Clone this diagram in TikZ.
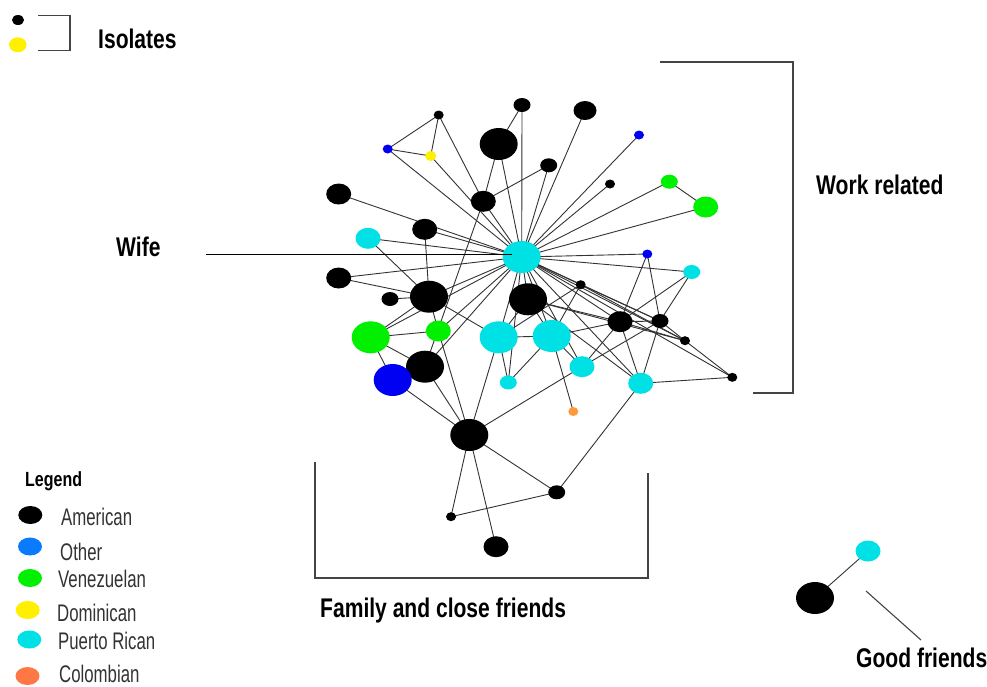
\documentclass[tikz,border=0pt]{standalone}
\usepackage{fontspec}
\setmainfont{Liberation Sans}
\newfontfamily\headfont[FakeStretch=0.78]{Liberation Sans}
\newfontfamily\itemfont[FakeStretch=0.70]{Liberation Sans}
\usetikzlibrary{shapes.geometric}
\pgfdeclarelayer{paper}
\pgfdeclarelayer{edges}
\pgfsetlayers{paper,edges,main}

\definecolor{amer}{HTML}{000000}
\definecolor{othr}{HTML}{0000F2}
\definecolor{othrkey}{HTML}{0A7BFF}
\definecolor{vene}{HTML}{00F000}
\definecolor{domi}{HTML}{FFF000}
\definecolor{puer}{HTML}{00E1E6}
\definecolor{colo}{HTML}{FF9A3C}
\definecolor{colokey}{HTML}{FF7744}
\definecolor{tieclr}{HTML}{333333}
\definecolor{brkclr}{HTML}{444444}

\tikzset{
  actor/.style={ellipse, inner sep=0pt, draw=none},
  big/.style={actor, minimum width=38pt, minimum height=32pt},
  med/.style={actor, minimum width=25pt, minimum height=21pt},
  sml/.style={actor, minimum width=17pt, minimum height=14pt},
  tiny/.style={actor, minimum width=10pt, minimum height=9pt},
  keydot/.style={actor, minimum width=24pt, minimum height=18pt},
  tie/.style={draw=tieclr, line width=0.9pt},
  brk/.style={draw=brkclr, line width=1.1pt},
  head/.style={anchor=base west, inner sep=0pt, text=black,
    font=\headfont\bfseries\fontsize{27}{27}\selectfont},
  keytext/.style={anchor=base west, inner sep=0pt, text=black!80,
    font=\itemfont\fontsize{24}{24}\selectfont},
}

\begin{document}
\begin{tikzpicture}[x=1pt, y=-1pt]
\begin{pgfonlayer}{paper}
\fill[white] (0,0) rectangle (987,686);
\end{pgfonlayer}
\useasboundingbox (0,0) rectangle (987,686);

% ---- actors of the personal network ----
\node[big, fill=puer] (e)   at (521.7,257) {};
\node[tiny, fill=amer] (a1) at (438.7,115) {};
\node[tiny, fill=othr] (b1) at (387.7,149) {};
\node[tiny, fill=domi, minimum width=11pt, minimum height=10pt] (y1) at (430.7,156) {};
\node[big, fill=amer] (bb1) at (498.7,144) {};
\node[sml, fill=amer] (k1)  at (522,105) {};
\node[med, fill=amer, minimum width=23pt, minimum height=19pt] (k2) at (585,110.5) {};
\node[tiny, fill=othr] (b2) at (639,135) {};
\node[sml, fill=amer] (k3)  at (548.7,165.3) {};
\node[tiny, fill=amer] (k4) at (610,184) {};
\node[sml, fill=vene] (g1)  at (669.3,181.7) {};
\node[med, fill=vene] (g2)  at (705.7,207) {};
\node[med, fill=amer] (k5)  at (338.7,194) {};
\node[med, fill=amer] (k6)  at (483.3,201.3) {};
\node[med, fill=puer] (c1)  at (368,238.3) {};
\node[med, fill=amer] (k7)  at (424.7,229.3) {};
\node[tiny, fill=othr] (b3) at (647.3,254) {};
\node[sml, fill=puer] (c2)  at (691.7,272) {};
\node[med, fill=amer] (k8)  at (338.7,278) {};
\node[sml, fill=amer] (k9)  at (390,299) {};
\node[big, fill=amer] (bb2) at (429,296.7) {};
\node[big, fill=amer] (bb3) at (528,299.3) {};
\node[tiny, fill=amer] (k10) at (580.7,284.7) {};
\node[med, fill=amer] (k11) at (620,321.7) {};
\node[sml, fill=amer] (k12) at (660,321) {};
\node[tiny, fill=amer] (k13) at (685,340.7) {};
\node[tiny, fill=amer] (k14) at (732.3,377.3) {};
\node[big, fill=vene] (gg)  at (370.7,337.3) {};
\node[med, fill=vene] (g3)  at (438.3,331) {};
\node[big, fill=puer] (cc1) at (498.7,337.3) {};
\node[big, fill=puer] (cc2) at (551.7,336) {};
\node[big, fill=amer] (bb4) at (425,366.7) {};
\node[big, fill=othr] (bbl) at (392.7,380) {};
\node[sml, fill=puer] (c3)  at (508.3,382.5) {};
\node[med, fill=puer] (c4)  at (582,366.7) {};
\node[med, fill=puer] (c5)  at (640.7,383.3) {};
\node[tiny, fill=colo] (o1) at (573.3,411.5) {};
\node[big, fill=amer] (bb5) at (469.3,435) {};
\node[sml, fill=amer] (k15) at (556.7,492.3) {};
\node[tiny, fill=amer] (k16) at (451,516.7) {};
\node[med, fill=amer] (k17) at (496,546.7) {};

% separate pair of good friends
\node[med, fill=puer] (pc) at (868,551) {};
\node[big, fill=amer] (pk) at (815,598) {};

% isolates
\node[actor, fill=amer, minimum width=12pt, minimum height=10pt] (iso1) at (18,20) {};
\node[actor, fill=domi, minimum width=17.5pt, minimum height=15pt] (iso2) at (17.8,44.8) {};

% ---- ties ----
\begin{pgfonlayer}{edges}
\foreach \a/\b in {a1/b1, a1/y1, b1/y1, a1/k6, b1/e, y1/e, bb1/k1, bb1/k6, bb1/e,
  k1/e, k2/e, b2/e, k3/e, k4/e, g1/e, g2/e, g1/g2, k6/k3, k6/e, k6/bb4,
  k5/e, k7/e, c1/e, c1/bb2, k7/bb2, k8/e, k8/bb2, k9/bb2, bb2/e, bb2/g3,
  bb2/gg, gg/g3, gg/bbl, gg/bb4, gg/e, g3/e, bb4/e, bbl/bb5, bb4/bb5,
  g3/bb5, cc1/bb5, cc1/e, e/c3, cc1/c3, cc2/c3, cc1/cc2, cc1/bb3, cc2/bb3,
  bb2/cc1, bb3/e, cc2/e, e/b3, e/c2, e/k10, e/k11, e/k12, e/k13, e/k14,
  e/c4, e/c5, b3/k11, b3/k12, c2/k11, c2/k12, k11/k12, k11/c5, k12/c5,
  k11/k13, k12/k13, k13/k14, k11/c4, k12/c4, c5/k14, cc2/k11, bb3/k11,
  bb3/c5, bb3/k13, cc2/c4, cc2/o1, c5/k15, c4/bb5, bb5/k16, bb5/k17,
  bb5/k15, k16/k15, k10/cc1, k10/cc2, k10/k12, k10/k13, pk/pc}
  \draw[tie] (\a.center) -- (\b.center);
\end{pgfonlayer}

% ---- annotations ----
\coordinate (isoA) at (38,15.7);
\coordinate (isoB) at (70,15.7);
\coordinate (isoC) at (70,50.7);
\coordinate (isoD) at (38,50.7);
\draw[brk] (isoA) -- (isoB) -- (isoC) -- (isoD);
\node[head] (lblIso) at (98,48.5) {Isolates};

\coordinate (wrkA) at (660,62);
\coordinate (wrkB) at (793,62);
\coordinate (wrkC) at (793,393);
\coordinate (wrkD) at (753,393);
\draw[brk] (wrkA) -- (wrkB) -- (wrkC) -- (wrkD);
\node[head] (lblWork) at (816,194) {Work related};

\coordinate (wifeL) at (206,254);
\coordinate (wifeR) at (512,254);
\draw[draw=black, line width=1pt] (wifeL) -- (wifeR);
\node[head] (lblWife) at (116,256) {Wife};

\coordinate (famA) at (315,462);
\coordinate (famB) at (315,578);
\coordinate (famC) at (648,578);
\coordinate (famD) at (648,472.7);
\draw[brk] (famA) -- (famB) -- (famC) -- (famD);
\node[head] (lblFam) at (320,617) {Family and close friends};

\coordinate (gfA) at (866,591);
\coordinate (gfB) at (921,640);
\draw[brk] (gfA) -- (gfB);
\node[head] (lblGood) at (856,667) {Good friends};

% ---- legend ----
\node[anchor=base west, inner sep=0pt, font=\headfont\bfseries\fontsize{20.5}{20.5}\selectfont] (lgd) at (25,486.7) {Legend};
\node[keydot, fill=amer] (kA) at (30.3,515) {};
\node[keydot, fill=othrkey] (kO) at (30,546.5) {};
\node[keydot, fill=vene] (kV) at (30,578) {};
\node[keydot, fill=domi] (kD) at (27.7,610) {};
\node[keydot, fill=puer] (kP) at (29.3,639.5) {};
\node[keydot, fill=colokey] (kC) at (27.5,676) {};
\node[keytext] (tA) at (61,525.7) {American};
\node[keytext] (tO) at (60,560) {Other};
\node[keytext] (tV) at (58,587.7) {Venezuelan};
\node[keytext] (tD) at (57,621) {Dominican};
\node[keytext] (tP) at (58,649) {Puerto Rican};
\node[keytext] (tC) at (59,682) {Colombian};
\end{tikzpicture}
\end{document}
